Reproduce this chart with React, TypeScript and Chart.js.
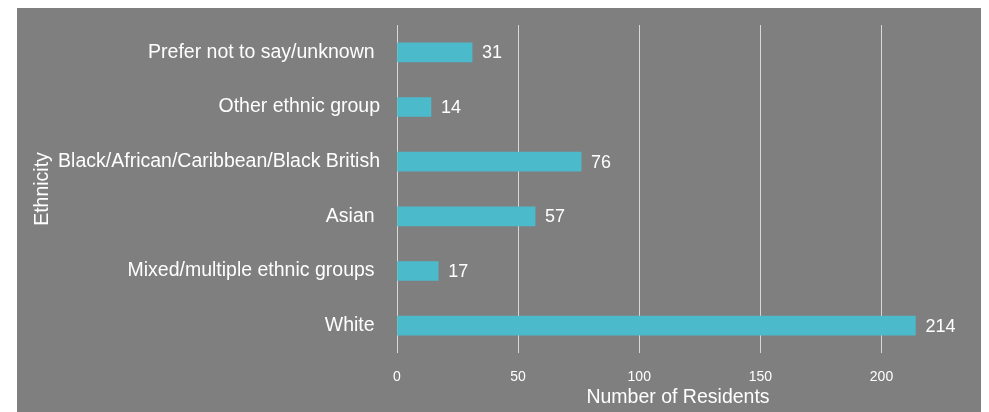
import React, { useEffect, useRef } from "react";
import { Chart, registerables } from "chart.js";

Chart.register(...registerables);

const categories = [
  "Prefer not to say/unknown ",
  "Other ethnic group",
  "Black/African/Caribbean/Black British",
  "Asian ",
  "Mixed/multiple ethnic groups ",
  "White ",
];
const residents = [31, 14, 76, 57, 17, 214];
const xTickValues = [0, 50, 100, 150, 200];
const xTitle = "Number of Residents";
const yTitle = "Ethnicity";

const FONT = "'Liberation Sans', Arial, Helvetica, sans-serif";

const valueLabels = {
  id: "valueLabels",
  afterDatasetsDraw(chart: any) {
    const ctx = chart.ctx;
    const meta = chart.getDatasetMeta(0);
    ctx.save();
    ctx.font = `18px ${FONT}`;
    ctx.fillStyle = "#ffffff";
    ctx.textAlign = "left";
    ctx.textBaseline = "middle";
    meta.data.forEach((el: any, i: number) => {
      ctx.fillText(String(chart.data.datasets[0].data[i]), el.x + 10, el.y + 1);
    });
    ctx.restore();
  },
};

export default function App() {
  const ref = useRef<HTMLCanvasElement | null>(null);

  useEffect(() => {
    if (!ref.current) return;
    Chart.defaults.font.family = FONT;
    const chart = new Chart(ref.current, {
      type: "bar",
      data: {
        labels: categories,
        datasets: [
          {
            data: residents,
            backgroundColor: "#4bbbcc",
            barThickness: 19,
          },
        ],
      },
      plugins: [valueLabels],
      options: {
        indexAxis: "y",
        animation: false,
        responsive: false,
        maintainAspectRatio: false,
        layout: { padding: { top: 17, right: 24, bottom: 0, left: 0 } },
        plugins: {
          legend: { display: false },
          tooltip: { enabled: false },
        },
        scales: {
          x: {
            min: 0,
            max: 232,
            afterBuildTicks: (s: any) => {
              s.ticks = xTickValues.map((v) => ({ value: v }));
            },
            afterFit: (s: any) => {
              s.height = 59;
            },
            border: { display: false },
            grid: { color: "#d9d9d9", lineWidth: 1, drawTicks: false },
            ticks: { color: "#ffffff", font: { size: 14 }, padding: 16 },
            title: {
              display: true,
              text: xTitle,
              color: "#ffffff",
              font: { size: 19.5 },
              padding: { top: 0, bottom: 3 },
            },
          },
          y: {
            afterFit: (s: any) => {
              s.width = 380;
              s.paddingTop = 0;
              s.paddingBottom = 0;
            },
            border: { display: false },
            grid: { display: false, drawTicks: false },
            ticks: { color: "#ffffff", font: { size: 19.5 }, padding: 17 },
            title: {
              display: true,
              text: yTitle,
              color: "#ffffff",
              font: { size: 19.5 },
              padding: { top: 14, bottom: 0 },
            },
          },
        },
      },
    });
    return () => chart.destroy();
  }, []);

  return (
    <div style={{ marginLeft: 9, width: 966, height: 404, background: "#7f7f7f" }}>
      <canvas ref={ref} width={966} height={404} style={{ display: "block" }} />
    </div>
  );
}
